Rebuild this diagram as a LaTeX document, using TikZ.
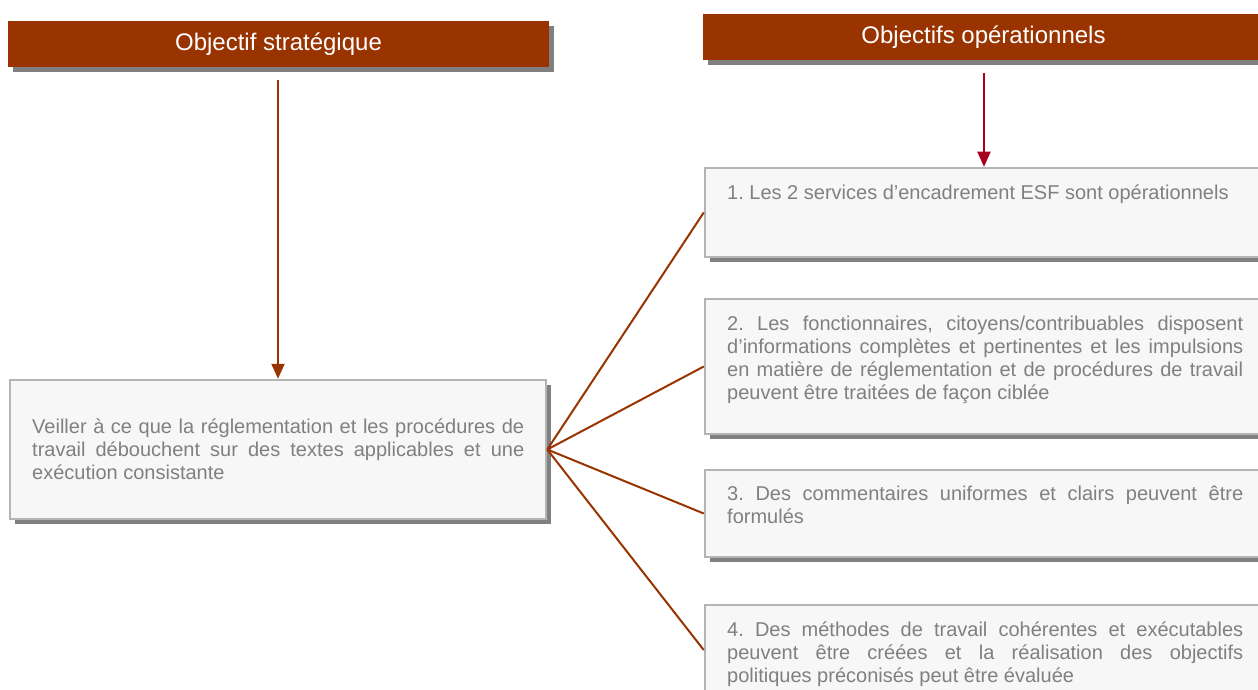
\documentclass[tikz,border=0pt]{standalone}
\usepackage{fontspec}
\setmainfont{Liberation Sans}
\usetikzlibrary{shadows,arrows.meta}
\definecolor{hdrbrown}{HTML}{993300}
\definecolor{crimsonarrow}{HTML}{A50021}
\definecolor{boxfill}{HTML}{F7F7F7}
\definecolor{boxborder}{HTML}{B4B4B4}
\definecolor{shadowgray}{HTML}{808080}
\definecolor{txtgray}{HTML}{808080}
\hyphenpenalty=10000
\exhyphenpenalty=10000
\frenchspacing
\tikzset{
  hdr/.style={rectangle, fill=hdrbrown, text=white, inner sep=0pt,
    font=\fontsize{24}{27}\selectfont,
    drop shadow={shadow xshift=5pt, shadow yshift=-5pt, fill=shadowgray, opacity=1}},
  objbox/.style={rectangle, fill=boxfill, draw=boxborder, line width=2.5pt, inner sep=0pt,
    drop shadow={shadow xshift=5pt, shadow yshift=-5pt, fill=shadowgray, opacity=1}},
  objtext/.style={anchor=north west, inner sep=0pt, text=txtgray, align=justify,
    font=\fontsize{20}{23}\selectfont},
  link/.style={draw=hdrbrown, line width=2pt},
  downarrow/.style={line width=2pt, -{Triangle[width=13pt,length=15pt]}},
}
\begin{document}
\begin{tikzpicture}[x=1pt,y=-1pt]
\useasboundingbox (0,0) rectangle (1258,690);
\clip (0,0) rectangle (1258,690);
% headers
\node[hdr, minimum width=541pt, minimum height=46pt] (h1) at (278.5,44) {Objectif stratégique};
\node[hdr, minimum width=561pt, minimum height=46pt] (h2) at (983.5,37) {Objectifs opérationnels};
% boxes
\node[objbox, minimum width=536pt, minimum height=139pt] (strat) at (278,449.5) {};
\node[objbox, minimum width=560pt, minimum height=89pt] (op1) at (985,212.5) {};
\node[objbox, minimum width=560pt, minimum height=135pt] (op2) at (985,366.5) {};
\node[objbox, minimum width=560pt, minimum height=87pt] (op3) at (985,513.5) {};
\node[objbox, minimum width=560pt, minimum height=90pt] (op4) at (985,650) {};
% texts
\node[objtext, text width=492pt] (tstrat) at (32,433-16.1) {\strut Veiller à ce que la réglementation et les procédures de\linebreak travail débouchent sur des textes applicables et une\linebreak exécution consistante};
\node[objtext, text width=516pt] (t1) at (727,199-16.1) {\strut 1. Les 2 services d’encadrement ESF sont opérationnels};
\node[objtext, text width=516pt] (t2) at (727,330-16.1) {\strut 2. Les fonctionnaires, citoyens/contribuables disposent\linebreak d’informations complètes et pertinentes et les impulsions\linebreak en matière de réglementation et de procédures de travail\linebreak peuvent être traitées de façon ciblée};
\node[objtext, text width=516pt] (t3) at (727,500-16.1) {\strut 3. Des commentaires uniformes et clairs peuvent être\linebreak formulés};
\node[objtext, text width=516pt] (t4) at (727,636-16.1) {\strut 4. Des méthodes de travail cohérentes et exécutables\linebreak peuvent être créées et la réalisation des objectifs\linebreak politiques préconisés peut être évaluée};
% arrows
\coordinate (a1s) at (278,80);
\coordinate (a2s) at (984,73);
\draw[downarrow, draw=hdrbrown, fill=hdrbrown] (a1s) -- (strat.north);
\draw[downarrow, draw=crimsonarrow, fill=crimsonarrow] (a2s) -- (op1.north -| a2s);
% connectors
\draw[link] (strat.east) -- (op1.west);
\draw[link] (strat.east) -- (op2.west);
\draw[link] (strat.east) -- (op3.west);
\draw[link] (strat.east) -- (op4.west);
\end{tikzpicture}
\end{document}
